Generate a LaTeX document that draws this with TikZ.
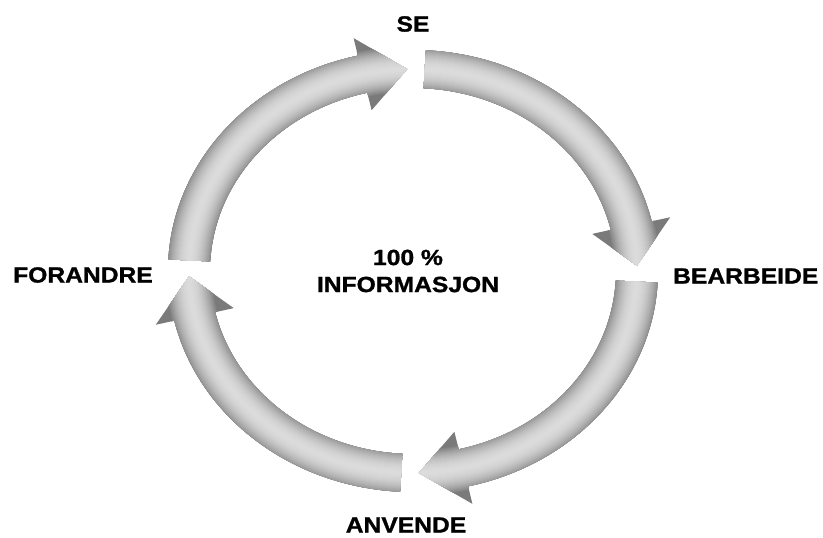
\documentclass[tikz,border=0pt]{standalone}
\usepackage{fontspec}
\setmainfont{Liberation Sans}[FakeStretch=1.12, BoldFeatures={FakeBold=1.2}]
\usepackage{xcolor}

\newcommand{\cyclearrow}[3]{%
	\pgfmathsetmacro{\tailext}{#1+6}
	\begin{scope}
		\fill[black!52] (#1:245 and 221) arc[start angle=#1, end angle=#2, x radius=245, y radius=221] -- (#2:264 and 239) -- (#3:224 and 202) -- (#2:184 and 165) -- (#2:203 and 183) arc[start angle=#2, end angle=#1, x radius=203, y radius=183] -- cycle;
		\clip (#1:245 and 221) arc[start angle=#1, end angle=#2, x radius=245, y radius=221] -- (#2:264 and 239) -- (#3:224 and 202) -- (#2:184 and 165) -- (#2:203 and 183) arc[start angle=#2, end angle=#1, x radius=203, y radius=183] -- cycle;
		\foreach \w in {48,46,...,2}{
			\pgfmathsetmacro{\tone}{14+38*(\w/48)^2}
			\draw[line width=\w pt, black!\tone] (\tailext:224 and 202) arc[start angle=\tailext, end angle=#3, x radius=224, y radius=202];
		}
	\end{scope}
}

\begin{document}
\begin{tikzpicture}[x=1pt, y=1pt]
				\tikzset{phase/.style={inner sep=0pt, font=\fontsize{22}{27}\selectfont\bfseries}}
				\useasboundingbox (-413,-267) rectangle (410,271);
				
				\cyclearrow{177}{103}{91.5}
				\cyclearrow{87}{13}{1.5}
				\cyclearrow{-3}{-77}{-88.5}
				\cyclearrow{-93}{-167}{-178.5}
				
				\node[phase] at (0,247) (se) {SE};
				\node[phase, anchor=west] at (260,-5) (bearbeide) {BEARBEIDE};
				\node[phase] at (-7,-254) (anvende) {ANVENDE};
				\node[phase, anchor=east] at (-260,-4) (forandre) {FORANDRE};
				\node[phase, align=center] at (-5,0) (info) {100 \%\\INFORMASJON};
			\end{tikzpicture}
\end{document}
